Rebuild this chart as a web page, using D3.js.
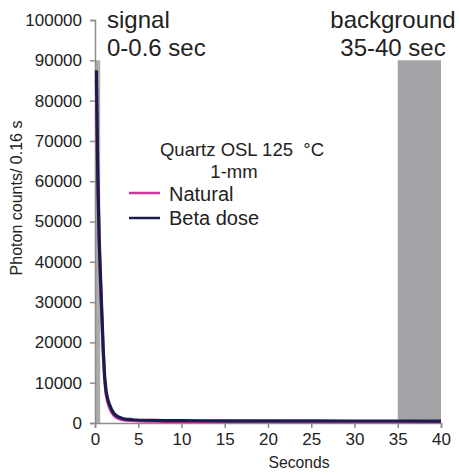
<!DOCTYPE html>
<html><head><meta charset="utf-8">
<script src="https://cdn.jsdelivr.net/npm/d3@7"></script>
<style>body{margin:0;background:#fff}svg text{font-family:"Liberation Sans",Arial,sans-serif;fill:#222}</style>
</head><body><svg id="c" width="459" height="475"></svg>
<script>
const times   = [0.16,0.32,0.48,0.64,0.8,0.96,1.12,1.28,1.44,1.6,1.92,2.24,2.56,2.88,3.2,3.52,4,4.48,5,6,7,8,10,12,15,20,25,30,35,40];
const betaDose= [87500,62000,46000,36000,27000,18000,11500,8000,6200,5000,3300,2200,1700,1350,1120,980,880,800,740,680,640,610,580,560,540,520,510,500,495,490];
const natural = [85000,60000,44500,34500,25500,16800,10600,7200,5500,4300,2700,1750,1300,1000,820,700,620,560,520,470,440,420,400,390,380,370,365,360,355,350];
const xTicks  = [0,5,10,15,20,25,30,35,40];
const yTicks  = [0,10000,20000,30000,40000,50000,60000,70000,80000,90000,100000];
const windows = [{from:0, to:0.6, top:90000, lines:["signal","0-0.6 sec"]}, {from:35, to:40, top:90000, lines:["background","35-40 sec"]}];

const svg = d3.select("#c");
const x = d3.scaleLinear().domain([0,40]).range([95,441]);
const y = d3.scaleLinear().domain([0,100000]).range([423,20]);

// shaded windows
svg.append("rect").attr("x",x(windows[0].from)).attr("y",y(windows[0].top))
  .attr("width",x(windows[0].to)-x(windows[0].from)).attr("height",y(0)-y(windows[0].top)).attr("fill","#acacae");
svg.append("rect").attr("x",x(windows[1].from)).attr("y",y(windows[1].top))
  .attr("width",x(windows[1].to)-x(windows[1].from)).attr("height",y(0)-y(windows[1].top)).attr("fill","#a2a3a6");

// axes
const ya = svg.append("g").attr("transform","translate(95,0)")
  .call(d3.axisLeft(y).tickValues(yTicks).tickFormat(d3.format("d")).tickSize(5).tickPadding(8));
const xa = svg.append("g").attr("transform","translate(0,423)")
  .call(d3.axisBottom(x).tickValues(xTicks).tickSize(5).tickPadding(5));
[ya,xa].forEach(g=>{
  g.select(".domain").attr("stroke","#8c8c8c").attr("stroke-width",1.5);
  g.selectAll(".tick line").attr("stroke","#8c8c8c").attr("stroke-width",1.5);
  g.selectAll(".tick text").attr("font-size",17).attr("fill","#222").style("font-family","'Liberation Sans',Arial,sans-serif");
});

// curves
const line = d3.line().x((d,i)=>x(times[i])).y(d=>y(d));
svg.append("path").datum(natural).attr("d",line).attr("fill","none").attr("stroke","#c8389e").attr("stroke-width",3.2);
svg.append("path").datum(betaDose).attr("d",line).attr("fill","none").attr("stroke","#1c1c4c").attr("stroke-width",3.2);

// labels
const t = (s,xx,yy,fs,anchor)=>svg.append("text").attr("x",xx).attr("y",yy).attr("font-size",fs).attr("text-anchor",anchor||"start").style("white-space","pre").text(s);
t(windows[0].lines[0],107,28,24);
t(windows[0].lines[1],107,55.5,24);
t(windows[1].lines[0],393,28,24,"middle");
t(windows[1].lines[1],393,55.5,24,"middle");
t("Quartz OSL 125  °C",242,156,18.5,"middle");
t("1-mm",234,178,18.5,"middle");
// legend
svg.append("line").attr("x1",129).attr("x2",160).attr("y1",193).attr("y2",193).attr("stroke","#c8389e").attr("stroke-width",2.5);
svg.append("line").attr("x1",129).attr("x2",160).attr("y1",218).attr("y2",218).attr("stroke","#1c1c4c").attr("stroke-width",2.5);
t("Natural",169,200.5,20);
t("Beta dose",169,225,20);
// axis titles
svg.append("text").attr("transform","translate(22,198) rotate(-90)").attr("text-anchor","middle").attr("font-size",16).text("Photon counts/ 0.16 s");
t("Seconds",299,468,15.7,"middle");
</script></body></html>
